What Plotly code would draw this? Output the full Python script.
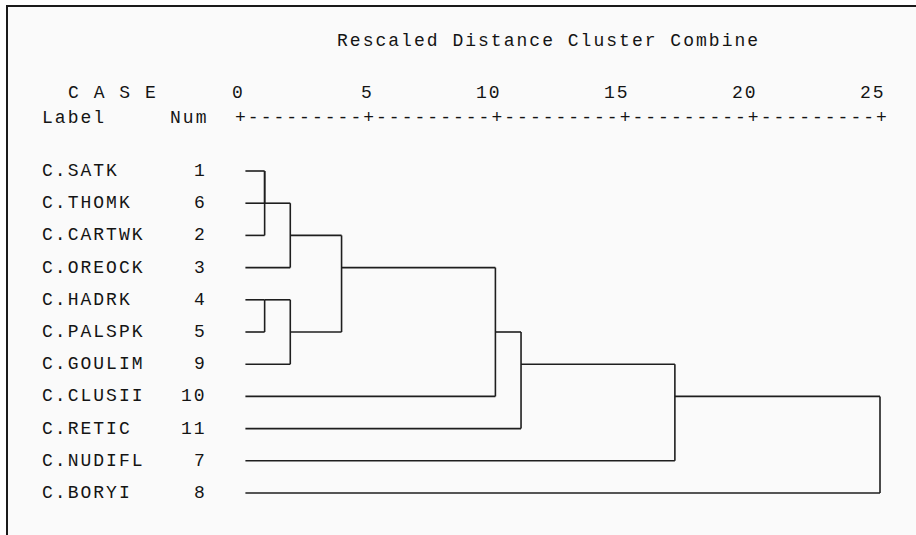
import plotly.graph_objects as go
import math

# ---- data ----
labels = ["C.SATK", "C.THOMK", "C.CARTWK", "C.OREOCK", "C.HADRK", "C.PALSPK",
          "C.GOULIM", "C.CLUSII", "C.RETIC", "C.NUDIFL", "C.BORYI"]
case_nums = [1, 6, 2, 3, 4, 5, 9, 10, 11, 7, 8]
# agglomeration schedule: (cluster a, cluster b, rescaled distance)
merge_a = [1, 4, 1, 1, 4, 1, 1, 1, 1, 1]
merge_b = [6, 5, 2, 3, 9, 4, 10, 11, 7, 8]
merge_dist = [1, 1, 1, 2, 2, 4, 10, 11, 17, 25]
tick_values = [0, 5, 10, 15, 20, 25]
tick_labels = ["0", "5", "10", "15", "20", "25"]
title_text = "Rescaled Distance Cluster Combine"

# ---- layout constants ----
W, H = 916, 535
PX_X0, PX_PER_U = 239.0, 25.64      # pixel of distance 0, pixels per unit
PX_Y0, PX_PER_ROW = 171.0, 32.2     # pixel of first row, pixels per row
CH = 0.5                            # one monospace character in data units
CH_PX = CH * PX_PER_U
LEAF_START = 0.25
FSIZE = 18
LSP = CH_PX - 0.6 * FSIZE           # letter spacing to reach the monospace pitch
FONT = dict(family="Liberation Mono, Courier New, monospace", size=FSIZE, color="#141414")
LINE_COLOR = "#1e1e1e"

xr = [-PX_X0 / PX_PER_U, (W - PX_X0) / PX_PER_U]
yr = [(H - PX_Y0) / PX_PER_ROW, -PX_Y0 / PX_PER_ROW]

# ---- build dendrogram segments (SPSS style) ----
row_of = {c: i for i, c in enumerate(case_nums)}
rep = {c: row_of[c] for c in case_nums}
xstart = {c: LEAF_START for c in case_nums}
xs, ys = [], []
for a, b, d in zip(merge_a, merge_b, merge_dist):
    for c in (a, b):
        if d > xstart[c]:
            xs += [xstart[c], d, None]
            ys += [rep[c], rep[c], None]
    ra, rb = rep[a], rep[b]
    xs += [d, d, None]
    ys += [min(ra, rb), max(ra, rb), None]
    rep[a] = math.floor((ra + rb) / 2)
    xstart[a] = d
    del rep[b]

fig = go.Figure()
fig.add_trace(go.Scatter(x=xs, y=ys, mode="lines",
                         line=dict(color=LINE_COLOR, width=1.6),
                         hoverinfo="skip", showlegend=False))

ann = []
col0 = -15 * CH - CH / 2  # left edge of text column 0
y_title = (41 - PX_Y0) / PX_PER_ROW
y_case = (93 - PX_Y0) / PX_PER_ROW
y_axis = (118 - PX_Y0) / PX_PER_ROW

def text(x, y, s, anchor="left"):
    shift = LSP if anchor == "right" else 0
    ann.append(dict(x=x, y=y, xref="x", yref="y",
                    text='<span style="letter-spacing:%.2fpx">%s</span>' % (LSP, s),
                    showarrow=False, xanchor=anchor, yanchor="middle",
                    xshift=shift, font=FONT))

text(col0 + 23 * CH, y_title, title_text)
text(col0 + 2 * CH, y_case, "C A S E")
text(col0, y_axis, "Label")
text(col0 + 10 * CH, y_axis, "Num")
for tv, tl in zip(tick_values, tick_labels):
    text(tv + CH / 2, y_case, tl, "right")
axis_str = "+"
for i in range(1, len(tick_values)):
    n = int(round((tick_values[i] - tick_values[i - 1]) / CH)) - 1
    axis_str += "-" * n + "+"
text(tick_values[0] - CH / 2, y_axis, axis_str)

for i, (lab, num) in enumerate(zip(labels, case_nums)):
    text(col0, i, lab)
    text(col0 + 13 * CH, i, str(num), "right")

fig.update_layout(
    width=W, height=H,
    margin=dict(l=0, r=0, t=0, b=0),
    paper_bgcolor="#ffffff", plot_bgcolor="rgba(0,0,0,0)",
    xaxis=dict(range=xr, visible=False, fixedrange=True),
    yaxis=dict(range=yr, visible=False, fixedrange=True),
    annotations=ann,
    shapes=[dict(type="rect", xref="paper", yref="paper",
                 x0=7 / W, x1=1.05, y0=-0.05, y1=1 - 6 / H,
                 line=dict(color="#1a1a1a", width=2), fillcolor="#fafafa",
                 layer="below")],
)
fig.write_html("out.html", config={"displayModeBar": False},
               post_script="document.body.style.margin='0';")
